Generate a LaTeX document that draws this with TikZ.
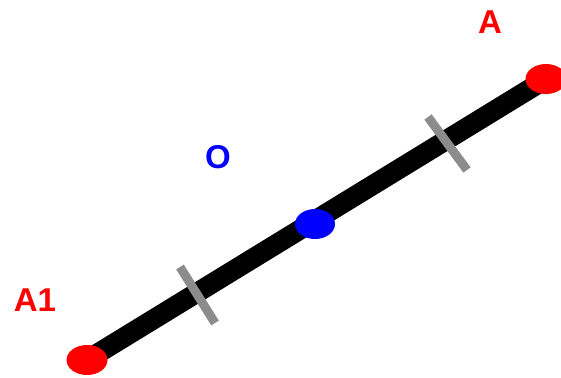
\documentclass[tikz,border=0pt]{standalone}
\usepackage{fontspec}
\setmainfont{Liberation Sans}
\usetikzlibrary{shapes.geometric}
\begin{document}
\begin{tikzpicture}[x=1pt,y=-1pt,
  seg/.style={line width=20pt,black},
  tick/.style={line width=9pt,gray!90},
  enddot/.style={ellipse,fill=red,minimum width=41pt,minimum height=30pt,inner sep=0pt},
  middot/.style={ellipse,fill=blue,minimum width=40pt,minimum height=30pt,inner sep=0pt},
  lbl/.style={font=\fontsize{33}{33}\selectfont,inner sep=0pt}]
\useasboundingbox (0,0) rectangle (561,377);
\coordinate (P1) at (87,360);
\coordinate (P2) at (546,79);
\coordinate (T1a) at (180,267);
\coordinate (T1b) at (215,323);
\coordinate (T2a) at (428,117);
\coordinate (T2b) at (467,170);
\draw[seg] (P1) -- (P2);
\draw[tick] (T1a) -- (T1b);
\draw[tick] (T2a) -- (T2b);
\node[enddot] (A1dot) at (P1) {};
\node[enddot] (Adot) at (P2) {};
\node[middot] (Odot) at (315,224) {};
\node[lbl,text=red] (A1) at (35,300) {\textbf{A1}};
\node[lbl,text=red] (A) at (490,22) {\textbf{A}};
\node[lbl,text=blue] (O) at (218,157) {\textbf{O}};
\end{tikzpicture}
\end{document}
